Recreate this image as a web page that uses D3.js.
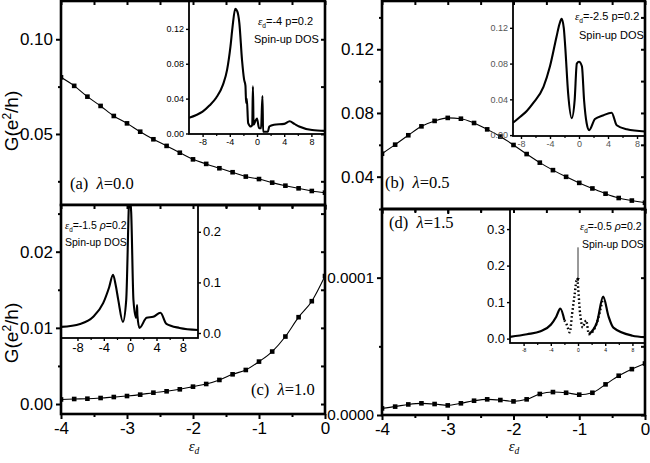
<!DOCTYPE html>
<html>
<head>
<meta charset="utf-8">
<script src="https://cdn.jsdelivr.net/npm/d3@7"></script>
<style>
  body { margin: 0; background: #fff; }
  svg { display: block; }
</style>
</head>
<body>
<svg id="chart" width="650" height="463"></svg>
<script>
// conductance vs eps_d, one value every 0.2
const epsD = [-4, -3.8, -3.6, -3.4, -3.2, -3, -2.8, -2.6, -2.4, -2.2, -2, -1.8, -1.6, -1.4, -1.2, -1, -0.8, -0.6, -0.4, -0.2, 0];
const gA = [0.0799, 0.0754, 0.0697, 0.0648, 0.0595, 0.0556, 0.0512, 0.0472, 0.0437, 0.0401, 0.0366, 0.0342, 0.0319, 0.0298, 0.0275, 0.0262, 0.0243, 0.0227, 0.0213, 0.0199, 0.0190];
const gB = [0.0544, 0.0601, 0.0660, 0.0716, 0.0750, 0.0769, 0.0764, 0.0737, 0.0697, 0.0652, 0.0599, 0.0542, 0.0488, 0.0441, 0.0399, 0.0361, 0.0326, 0.0293, 0.0266, 0.0250, 0.0236];
const gC = [0.0006, 0.00066, 0.0007, 0.00079, 0.00092, 0.00105, 0.00123, 0.00149, 0.00167, 0.00193, 0.00228, 0.00263, 0.00316, 0.0039, 0.00447, 0.00557, 0.00689, 0.00886, 0.0114, 0.0135, 0.0168];
const gD = [4.8e-6, 6.1e-6, 7.7e-6, 8.5e-6, 8.0e-6, 7.0e-6, 8.5e-6, 10.4e-6, 11.4e-6, 10.9e-6, 9.9e-6, 11.4e-6, 15.3e-6, 16.7e-6, 16.2e-6, 14.8e-6, 16.2e-6, 22.3e-6, 28.6e-6, 33.4e-6, 37.5e-6];

// spin-up DOS insets
const dosAX = [-10, -9, -8, -7, -6, -5, -4.4, -3.9, -3.6, -3.2, -2.9, -2.6, -2.2, -1.9, -1.7, -1.6, -1.5, -1.3, -0.9, -0.7, -0.6, -0.5, -0.2, 0, 0.3, 0.6, 0.8, 0.9, 1.6, 1.8, 2.5, 4, 4.8, 5.5, 6.2, 8.1, 10];
const dosAY = [0.018, 0.021, 0.025, 0.032, 0.041, 0.056, 0.073, 0.100, 0.122, 0.143, 0.140, 0.127, 0.084, 0.062, 0.055, 0.035, 0.040, 0.012, 0.008, 0.010, 0.054, 0.010, 0.015, 0.017, 0.006, 0.006, 0.043, 0.002, 0.002, 0.008, 0.010, 0.011, 0.014, 0.011, 0.008, 0.004, 0.003];

const dosBX = [-9.1, -8.1, -7.2, -6.3, -4.9, -4, -3.1, -2.7, -2.4, -2.1, -1.9, -1.5, -1, -0.6, -0.3, 0, 0.4, 0.7, 1.05, 1.4, 2.2, 3.3, 4.5, 5.2, 6.6, 9.1];
const dosBY = [0.0138, 0.0206, 0.027, 0.036, 0.054, 0.077, 0.110, 0.124, 0.130, 0.120, 0.099, 0.047, 0.019, 0.039, 0.080, 0.082, 0.077, 0.039, 0.0135, 0.0056, 0.018, 0.022, 0.025, 0.011, 0.0065, 0.004];

const dosCX = [-10.5, -7.6, -5.6, -4.1, -3.2, -2.6, -2.2, -1.8, -1.1, -0.6, -0.1, 0.15, 0.5, 0.9, 1.05, 1.1, 1.4, 2.5, 3.5, 4.6, 5.5, 7.5, 10.3];
const dosCY = [0.012, 0.018, 0.032, 0.059, 0.090, 0.115, 0.095, 0.065, 0.022, 0.065, 0.27, 0.24, 0.065, 0.030, 0.055, 0.035, 0.010, 0.030, 0.032, 0.040, 0.018, 0.010, 0.006];

const dosDX = [-10, -7.5, -5.5, -4, -3.2, -2.6, -2, -1.7, -1.2, -0.9, -0.5, -0.15, 0.3, 0.7, 1, 1.2, 1.6, 2.8, 3.7, 4.5, 5.2, 8, 9.85];
const dosDY = [0.005, 0.012, 0.020, 0.038, 0.060, 0.082, 0.050, 0.040, 0.017, 0.063, 0.120, 0.165, 0.070, 0.030, 0.045, 0.050, 0.012, 0.045, 0.115, 0.060, 0.030, 0.008, 0.004];
// eps ranges where the DOS of panel (d) is drawn dotted
const dottedD = [[-2, 1.6], [2.8, 3.7]];

const xMajor = [-4, -3, -2, -1, 0];
const xMinor = [-3.5, -2.5, -1.5, -0.5];

const sans = '"Liberation Sans", Arial, sans-serif';
const serif = '"Liberation Serif", "Times New Roman", serif';

const svg = d3.select('#chart');

const panels = [
  {
    id: 'a', box: [61, 1, 325, 205], yDomain: [0.0125, 0.1202], yMajor: [0.05, 0.10], yMinor: [0.025, 0.075],
    yFormat: d3.format('.2f'), yFont: 17, g: gA, xLabels: false, name: '(a)', lambda: '0.0', labelAt: [70, 189],
    inset: {
      box: [189, 1, 325, 134], xDomain: [-10, 10], yDomain: [-0.0006, 0.152], yTicks: [0, 0.04, 0.08, 0.12],
      yFormat: d3.format('.2f'), side: 'left', font: 9, xs: dosAX, ys: dosAY,
      eps: '-4', p: 'p', italicP: false, textAt: [258, 25], line2At: [254, 43], textSize: 11,
    },
  },
  {
    id: 'b', box: [382, 1, 645, 209], yDomain: [0.0197, 0.1503], yMajor: [0.04, 0.08, 0.12], yMinor: [0.06, 0.10, 0.14],
    yFormat: d3.format('.2f'), yFont: 17, g: gB, xLabels: false, name: '(b)', lambda: '0.5', labelAt: [385, 188],
    inset: {
      box: [513, 1, 645, 136], xDomain: [-9.1, 9.1], yDomain: [-0.001, 0.150], yTicks: [0, 0.04, 0.08, 0.12],
      yFormat: d3.format('.2f'), side: 'left', font: 9, xs: dosBX, ys: dosBY, faint: true,
      eps: '-2.5', p: 'p', italicP: false, textAt: [575, 20], line2At: [579, 39], textSize: 11,
    },
  },
  {
    id: 'c', box: [61, 205, 325, 414], yDomain: [-0.00131, 0.02613], yMajor: [0, 0.01, 0.02], yMinor: [0.005, 0.015, 0.025],
    yFormat: d3.format('.2f'), yFont: 17, g: gC, xLabels: true, name: '(c)', lambda: '1.0', labelAt: [251, 395],
    inset: {
      box: [61, 205, 198, 338], xDomain: [-10.5, 10.3], yDomain: [-0.0099, 0.253], yTicks: [0, 0.1, 0.2],
      yFormat: d3.format('.1f'), side: 'right', font: 13, xs: dosCX, ys: dosCY,
      eps: '-1.5', p: 'ρ', italicP: true, textAt: [65, 229], line2At: [65, 246], textSize: 10.5,
    },
  },
  {
    id: 'd', box: [382, 209, 645, 415], yDomain: [0, 0.00015], yMajor: [0, 0.0001], yMinor: [0.00005, 0.00015],
    yFormat: d3.format('.4f'), yFont: 15.3, g: gD, xLabels: true, name: '(d)', lambda: '1.5', labelAt: [389, 228],
    inset: {
      box: [510, 209, 645, 343], xDomain: [-10, 9.85], yDomain: [-0.012, 0.355], yTicks: [0, 0.1, 0.2, 0.3],
      yFormat: d3.format('.1f'), side: 'left', font: 13, xFont: 5, xs: dosDX, ys: dosDY, dotted: dottedD,
      eps: '-0.5', p: 'ρ', italicP: true, textAt: [580, 230], line2At: [582, 248], textSize: 10.5,
      arrow: { x: 0, from: 0.25, to: 0.158 },
    },
  },
];

const tickLabel = (d) => String(+d.toFixed(6));

function styleAxis(g, fontSize, family) {
  g.select('.domain').remove();
  g.attr('font-size', fontSize).attr('font-family', family);
  g.selectAll('.tick line').attr('stroke', '#000').attr('stroke-width', 2);
  g.selectAll('.tick text').attr('fill', '#000');
}

function clipRect(id, [x0, y0, x1, y1]) {
  svg.append('clipPath').attr('id', id)
    .append('rect').attr('x', x0).attr('y', y0).attr('width', x1 - x0).attr('height', y1 - y0);
  return `url(#${id})`;
}

function drawPanel(p) {
  const [x0, y0, x1, y1] = p.box;
  const x = d3.scaleLinear().domain([-4, 0]).range([x0, x1]);
  const y = d3.scaleLinear().domain(p.yDomain).range([y1, y0]);
  const g = svg.append('g').attr('class', `panel-${p.id}`);
  const pts = epsD.map((e, i) => ({ e, v: p.g[i] }));

  // curve + square markers
  const plot = g.append('g').attr('clip-path', clipRect(`clip-${p.id}`, p.box));
  plot.append('path')
    .datum(pts)
    .attr('fill', 'none').attr('stroke', '#000').attr('stroke-width', 1.1)
    .attr('d', d3.line().x((d) => x(d.e)).y((d) => y(d.v)).curve(d3.curveMonotoneX));
  plot.selectAll('rect.mark')
    .data(pts)
    .join('rect')
    .attr('class', 'mark')
    .attr('x', (d) => x(d.e) - 2.3).attr('y', (d) => y(d.v) - 2.3)
    .attr('width', 4.6).attr('height', 4.6)
    .attr('fill', '#000');

  drawInset(g, p);

  // axes: bottom/left ticks outward, top/right mirrored inward
  g.append('g').attr('transform', `translate(0,${y1})`)
    .call(d3.axisBottom(x).tickValues(xMajor).tickSize(5).tickPadding(3).tickFormat(p.xLabels ? tickLabel : ''))
    .call((a) => styleAxis(a, 17, sans));
  g.append('g').attr('transform', `translate(0,${y1})`)
    .call(d3.axisBottom(x).tickValues(xMinor).tickSize(3).tickFormat(''))
    .call((a) => styleAxis(a, 17, sans));
  g.append('g').attr('transform', `translate(0,${y0})`)
    .call(d3.axisBottom(x).tickValues(xMajor.concat(xMinor)).tickSize(4).tickFormat(''))
    .call((a) => styleAxis(a, 17, sans));
  g.append('g').attr('transform', `translate(${x0},0)`)
    .call(d3.axisLeft(y).tickValues(p.yMajor).tickSize(5).tickPadding(3).tickFormat(p.yFormat))
    .call((a) => styleAxis(a, p.yFont, sans));
  g.append('g').attr('transform', `translate(${x0},0)`)
    .call(d3.axisLeft(y).tickValues(p.yMinor).tickSize(3).tickFormat(''))
    .call((a) => styleAxis(a, 17, sans));
  g.append('g').attr('transform', `translate(${x1},0)`)
    .call(d3.axisLeft(y).tickValues(p.yMajor.concat(p.yMinor)).tickSize(4).tickFormat(''))
    .call((a) => styleAxis(a, 17, sans));

  g.append('rect')
    .attr('x', x0).attr('y', y0).attr('width', x1 - x0).attr('height', y1 - y0)
    .attr('fill', 'none').attr('stroke', '#000').attr('stroke-width', 2.6);

  const lab = g.append('text')
    .attr('x', p.labelAt[0]).attr('y', p.labelAt[1])
    .attr('font-family', serif).attr('font-size', 16.5).attr('fill', '#000')
    .attr('xml:space', 'preserve');
  lab.append('tspan').text(`${p.name}  `);
  lab.append('tspan').attr('font-style', 'italic').text('λ');
  lab.append('tspan').text(`=${p.lambda}`);
}

function drawInset(parent, p) {
  const s = p.inset;
  const [x0, y0, x1, y1] = s.box;
  const x = d3.scaleLinear().domain(s.xDomain).range([x0, x1]);
  const y = d3.scaleLinear().domain(s.yDomain).range([y1, y0]);
  const g = parent.append('g').attr('class', 'inset');
  const ink = s.faint ? '#555' : '#000';

  g.append('rect')
    .attr('x', x0).attr('y', y0).attr('width', x1 - x0).attr('height', y1 - y0)
    .attr('fill', '#fff');

  const pts = s.xs.map((v, i) => ({ e: v, v: s.ys[i] }));
  const clip = g.append('g').attr('clip-path', clipRect(`clip-in-${p.id}`, s.box));
  const inDotted = (e) => (s.dotted || []).some(([a, b]) => e >= a && e <= b);
  const line = d3.line().x((d) => x(d.e)).y((d) => y(d.v)).curve(d3.curveMonotoneX);

  if (s.dotted) {
    const edge = (e) => (s.dotted || []).some(([a, b]) => e === a || e === b);
    clip.append('path').datum(pts)
      .attr('fill', 'none').attr('stroke', '#000').attr('stroke-width', 2.2)
      .attr('d', line.defined((d) => !inDotted(d.e) || edge(d.e))(pts));
    clip.append('path').datum(pts)
      .attr('fill', 'none').attr('stroke', '#000').attr('stroke-width', 2.4)
      .attr('stroke-dasharray', '1.6,2.4')
      .attr('d', d3.line().x((d) => x(d.e)).y((d) => y(d.v)).curve(d3.curveMonotoneX)
        .defined((d) => inDotted(d.e))(pts));
  } else {
    clip.append('path').datum(pts)
      .attr('fill', 'none').attr('stroke', '#000').attr('stroke-width', 2.1)
      .attr('d', line);
  }

  if (s.arrow) {
    const defs = svg.append('defs');
    defs.append('marker').attr('id', 'arrowhead').attr('viewBox', '0 0 6 6')
      .attr('refX', 5).attr('refY', 3).attr('markerWidth', 5).attr('markerHeight', 6).attr('orient', 'auto')
      .append('path').attr('d', 'M0,0L6,3L0,6Z').attr('fill', '#000');
    g.append('line')
      .attr('x1', x(s.arrow.x)).attr('x2', x(s.arrow.x))
      .attr('y1', y(s.arrow.from)).attr('y2', y(s.arrow.to))
      .attr('stroke', '#000').attr('stroke-width', 0.8).attr('marker-end', 'url(#arrowhead)');
  }

  // inset frame
  g.append('rect')
    .attr('x', x0).attr('y', y0).attr('width', x1 - x0).attr('height', y1 - y0)
    .attr('fill', 'none').attr('stroke', '#000').attr('stroke-width', 1.8);

  const yAxis = s.side === 'left' ? d3.axisLeft(y) : d3.axisRight(y);
  g.append('g').attr('transform', `translate(${s.side === 'left' ? x0 : x1},0)`)
    .call(yAxis.tickValues(s.yTicks).tickSize(3).tickPadding(2).tickFormat(s.yFormat))
    .call((a) => styleAxis(a, s.font, sans))
    .call((a) => a.selectAll('.tick line').attr('stroke-width', 1.4))
    .call((a) => a.selectAll('.tick text').attr('fill', ink));
  g.append('g').attr('transform', `translate(0,${y1})`)
    .call(d3.axisBottom(x).tickValues([-8, -4, 0, 4, 8]).tickSize(3).tickPadding(2).tickFormat(tickLabel))
    .call((a) => styleAxis(a, s.xFont || s.font, sans))
    .call((a) => a.selectAll('.tick line').attr('stroke-width', 1.4))
    .call((a) => a.selectAll('.tick text').attr('fill', ink));
  g.append('g').attr('transform', `translate(0,${y1})`)
    .call(d3.axisBottom(x).tickValues([-6, -2, 2, 6]).tickSize(2).tickFormat(''))
    .call((a) => styleAxis(a, s.font, sans))
    .call((a) => a.selectAll('.tick line').attr('stroke-width', 1.2));

  const t = g.append('text')
    .attr('x', s.textAt[0]).attr('y', s.textAt[1])
    .attr('font-family', sans).attr('font-size', s.textSize).attr('fill', '#000');
  t.append('tspan').attr('font-family', serif).attr('font-style', 'italic').text('ε');
  t.append('tspan').attr('font-size', s.textSize * 0.6).attr('dy', 2.5).text('d');
  t.append('tspan').attr('dy', -2.5).text(`=${s.eps} `);
  t.append('tspan').attr('font-style', s.italicP ? 'italic' : 'normal').text(s.p);
  t.append('tspan').text('=0.2');

  g.append('text')
    .attr('x', s.line2At[0]).attr('y', s.line2At[1])
    .attr('font-family', sans).attr('font-size', s.textSize).attr('fill', '#000')
    .text('Spin-up DOS');
}

panels.forEach(drawPanel);

// axis titles
[121, 333].forEach((cy) => {
  const t = svg.append('text')
    .attr('transform', `translate(18,${cy}) rotate(-90)`)
    .attr('text-anchor', 'middle')
    .attr('font-family', sans).attr('font-size', 19).attr('fill', '#000');
  t.append('tspan').text('G(e');
  t.append('tspan').attr('font-size', 12).attr('dy', -7).text('2');
  t.append('tspan').attr('dy', 7).text('/h)');
});

[194, 514].forEach((cx) => {
  const t = svg.append('text')
    .attr('x', cx).attr('y', 451)
    .attr('text-anchor', 'middle')
    .attr('font-family', serif).attr('font-size', 15).attr('fill', '#000');
  t.append('tspan').attr('font-style', 'italic').text('ε');
  t.append('tspan').attr('font-style', 'italic').attr('font-size', 9.5).attr('dy', 3).text('d');
});
</script>
</body>
</html>
